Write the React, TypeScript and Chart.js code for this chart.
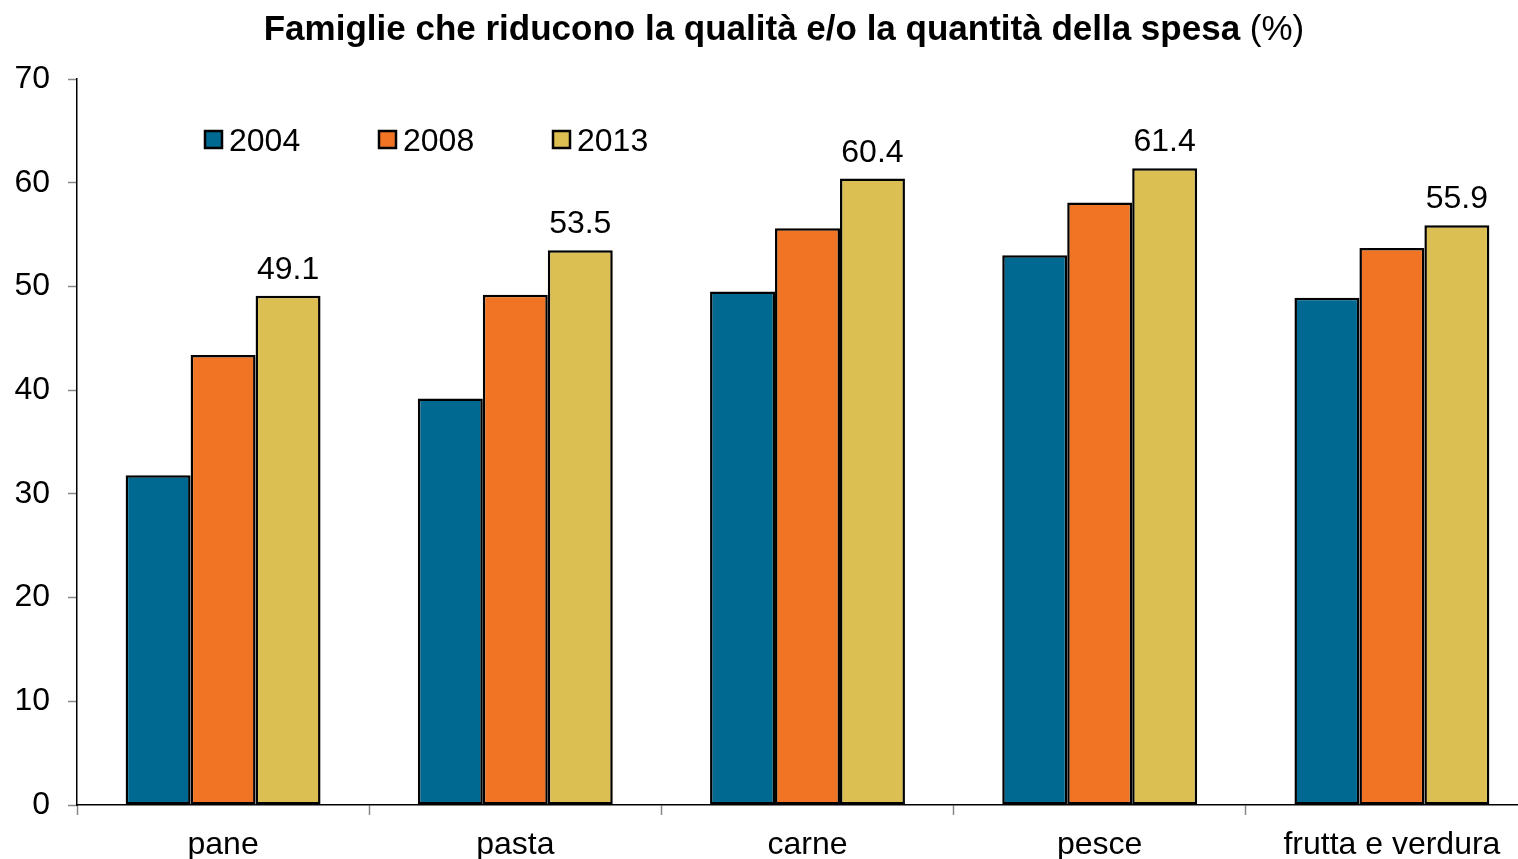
import React, { useEffect, useRef } from "react";
import { Chart, registerables } from "chart.js";

Chart.register(...registerables);

const categories = ["pane", "pasta", "carne", "pesce", "frutta e verdura"];
const years = ["2004", "2008", "2013"];
const values2004 = [31.8, 39.2, 49.5, 53.0, 48.9];
const values2008 = [43.4, 49.2, 55.6, 58.1, 53.7];
const values2013 = [49.1, 53.5, 60.4, 61.4, 55.9];
const colors = ["#006991", "#F07423", "#DCBF52"];
const yTicks = [0, 10, 20, 30, 40, 50, 60, 70];
const titleBold = "Famiglie che riducono la qualità e/o la quantità della spesa";
const titleNormal = " (%)";

const FONT = "'Liberation Sans', Arial, Helvetica, sans-serif";

const overlayPlugin = {
  id: "overlay",
  afterDatasetsDraw(chart: any) {
    const ctx = chart.ctx;
    const area = chart.chartArea;
    ctx.save();
    // data labels for last series
    const meta = chart.getDatasetMeta(2);
    ctx.font = `32px ${FONT}`;
    ctx.fillStyle = "#000";
    ctx.textAlign = "center";
    ctx.textBaseline = "alphabetic";
    meta.data.forEach((bar: any, i: number) => {
      const v = chart.data.datasets[2].data[i];
      ctx.fillText(Number(v).toFixed(1), bar.x, bar.y - 17);
    });
    // legend
    ctx.textAlign = "left";
    chart.data.datasets.forEach((ds: any, i: number) => {
      const bx = area.left + 128 + i * 174;
      const by = 131;
      ctx.fillStyle = ds.backgroundColor;
      ctx.fillRect(bx, by, 17, 17);
      ctx.lineWidth = 2.5;
      ctx.strokeStyle = "#000";
      ctx.strokeRect(bx, by, 17, 17);
      ctx.fillStyle = "#000";
      ctx.font = `32px ${FONT}`;
      ctx.fillText(ds.label, bx + 24, 151);
    });
    // title
    const tb = `bold 35px ${FONT}`;
    const tn = `35px ${FONT}`;
    ctx.font = tb;
    const wb = ctx.measureText(titleBold).width;
    ctx.font = tn;
    const wn = ctx.measureText(titleNormal).width;
    const startX = 784 - (wb + wn) / 2;
    ctx.font = tb;
    ctx.fillText(titleBold, startX, 40);
    ctx.font = tn;
    ctx.fillText(titleNormal, startX + wb, 40);
    ctx.restore();
  },
};

export default function App() {
  const ref = useRef<HTMLCanvasElement>(null);
  useEffect(() => {
    if (!ref.current) return;
    const seriesVals = [values2004, values2008, values2013];
    const chart = new Chart(ref.current, {
      type: "bar",
      data: {
        labels: categories,
        datasets: years.map((y, i) => ({
          label: y,
          data: seriesVals[i],
          backgroundColor: colors[i],
          borderColor: "#000",
          borderWidth: 2.5,
          borderSkipped: false,
          categoryPercentage: 0.667,
          barPercentage: 1,
        })),
      },
      options: {
        animation: false,
        responsive: false,
        devicePixelRatio: 1,
        layout: { padding: { top: 79, right: 8, left: 0, bottom: 0 } },
        plugins: {
          legend: { display: false },
          title: { display: false },
          tooltip: { enabled: false },
        },
        scales: {
          x: {
            afterFit: (s: any) => {
              s.height = 54;
            },
            grid: {
              offset: true,
              drawOnChartArea: false,
              tickLength: 10,
              tickColor: "#888",
              tickWidth: 1.5,
            },
            border: { color: "#000", width: 1.5 },
            ticks: {
              color: "#000",
              font: { family: FONT, size: 32 },
              padding: 11,
              maxRotation: 0,
              autoSkip: false,
            },
          },
          y: {
            min: 0,
            max: 70,
            afterFit: (s: any) => {
              s.width = 77;
            },
            afterBuildTicks: (s: any) => {
              s.ticks = yTicks.map((v) => ({ value: v }));
            },
            grid: {
              drawOnChartArea: false,
              tickLength: 9,
              tickColor: "#888",
              tickWidth: 1.5,
            },
            border: { color: "#000", width: 1.5 },
            ticks: {
              color: "#000",
              font: { family: FONT, size: 32 },
              padding: 18,
            },
          },
        },
      },
      plugins: [overlayPlugin],
    });
    return () => chart.destroy();
  }, []);
  return (
    <div
      style={{
        position: "fixed",
        left: 0,
        top: 0,
        width: 1518,
        height: 859,
        overflow: "hidden",
        background: "#fff",
      }}
    >
      <canvas
        ref={ref}
        width={1546}
        height={859}
        style={{ position: "absolute", left: 0, top: 0, width: 1546, height: 859 }}
      />
    </div>
  );
}
